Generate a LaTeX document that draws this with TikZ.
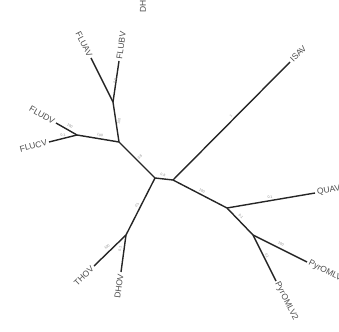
\documentclass[tikz,border=0pt]{standalone}
\usepackage{fontspec}
\setmainfont{Liberation Sans}
\begin{document}
\begin{tikzpicture}[x=1pt,y=-1pt,
  br/.style={line width=1.4pt, black!85},
  leafW/.style={anchor=west, inner sep=2pt, font=\fontsize{8.5}{9}\selectfont, text=black!70},
  leafE/.style={anchor=east, inner sep=2pt, font=\fontsize{8.5}{9}\selectfont, text=black!70},
  bl/.style={font=\fontsize{3.5}{4}\selectfont, text=black!45, inner sep=0.5pt}]
\useasboundingbox (0,0) rectangle (339,331);
% internal nodes
\coordinate (c1) at (155,178);
\coordinate (c2) at (173,180);
\coordinate (f) at (119,142);
\coordinate (fab) at (113,102);
\coordinate (fcd) at (77,135);
\coordinate (td) at (126,235);
\coordinate (q) at (227,208);
\coordinate (p) at (253,235);
% tips
\coordinate (tfav) at (91,58);
\coordinate (tfbv) at (119,61);
\coordinate (tfdv) at (56,123);
\coordinate (tfcv) at (49,142);
\coordinate (tthov) at (94,266);
\coordinate (tdhov) at (121,272);
\coordinate (tisav) at (290,62);
\coordinate (tqua) at (315,193);
\coordinate (tpom) at (307,262);
\coordinate (tpom2) at (276,281);
% branches
\draw[br] (c1) -- (c2);
\draw[br] (c1) -- (f);
\draw[br] (f) -- (fab);
\draw[br] (fab) -- (tfav);
\draw[br] (fab) -- (tfbv);
\draw[br] (f) -- (fcd);
\draw[br] (fcd) -- (tfdv);
\draw[br] (fcd) -- (tfcv);
\draw[br] (c1) -- (td);
\draw[br] (td) -- (tthov);
\draw[br] (td) -- (tdhov);
\draw[br] (c2) -- (tisav);
\draw[br] (c2) -- (q);
\draw[br] (q) -- (tqua);
\draw[br] (q) -- (p);
\draw[br] (p) -- (tpom);
\draw[br] (p) -- (tpom2);
% leaf labels
\node[leafE, rotate=-63] (lfav) at (tfav) {FLUAV};
\node[leafW, rotate=82] (lfbv) at (tfbv) {FLUBV};
\node[leafE, rotate=-30] (lfdv) at (tfdv) {FLUDV};
\node[leafE, rotate=14] (lfcv) at (tfcv) {FLUCV};
\node[leafE, rotate=44] (lthov) at (tthov) {THOV};
\node[leafE, rotate=82] (ldhov) at (tdhov) {DHOV};
\node[leafW, rotate=45] (lisav) at (tisav) {ISAV};
\node[leafW, rotate=10] (lqua) at (tqua) {QUAV};
\node[leafW, rotate=-27] (lpom) at (tpom) {PyrOMLV1};
\node[leafW, rotate=-63] (lpom2) at (tpom2) {PyrOMLV2};
\node[leafW, rotate=90] (ltop) at (143,15) {DHOV};
% branch support labels
\node[bl, rotate=-8] (b1) at (163,175) {0.8};
\node[bl, rotate=45] (b2) at (140,157) {0.8};
\node[bl, rotate=81] (b3) at (119,121) {100};
\node[bl, rotate=82] (b4) at (115,81) {0.5};
\node[bl, rotate=-10] (b5) at (100,135) {100};
\node[bl, rotate=-30] (b6) at (70,126) {100};
\node[bl, rotate=14] (b7) at (63,135) {0.1};
\node[bl, rotate=62] (b8) at (137,205) {0.1};
\node[bl, rotate=44] (b9) at (107,247) {100};
\node[bl, rotate=82] (b10) at (120,249) {0.1};
\node[bl, rotate=45] (b11) at (231,116) {1};
\node[bl, rotate=-29] (b12) at (202,191) {100};
\node[bl, rotate=10] (b13) at (270,197) {0.1};
\node[bl, rotate=-46] (b14) at (241,216) {0.1};
\node[bl, rotate=-27] (b15) at (281,244) {100};
\node[bl, rotate=-63] (b16) at (267,256) {0.1};
\end{tikzpicture}
\end{document}
